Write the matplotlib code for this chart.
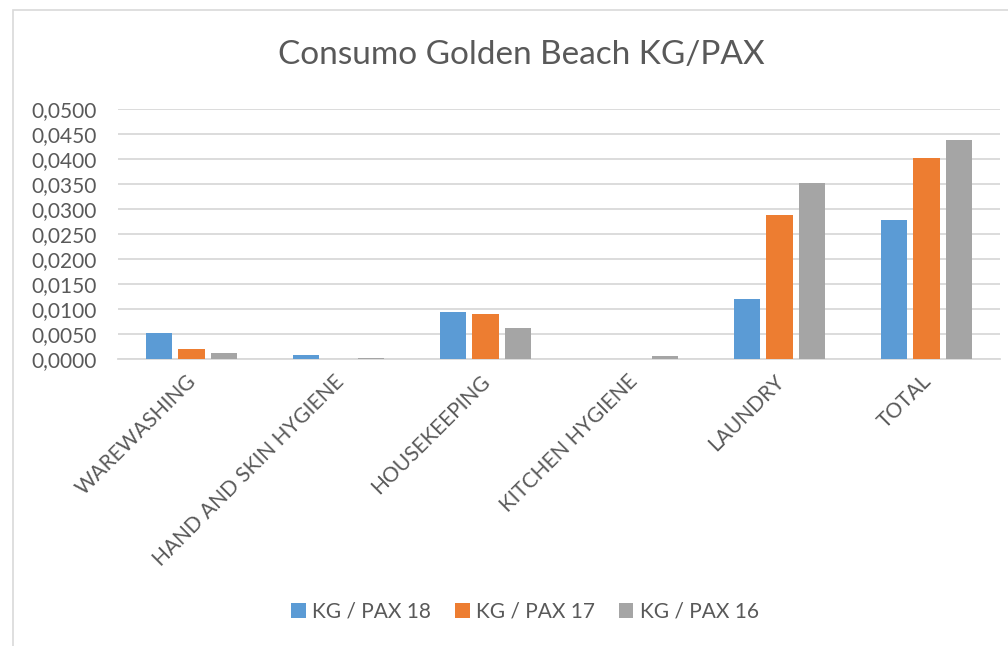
import matplotlib
matplotlib.use("Agg")
import matplotlib.pyplot as plt
import matplotlib.ticker as ticker
from matplotlib.patches import Rectangle
import numpy as np

plt.rcParams["font.family"] = ["Lato", "DejaVu Sans"]

CATEGORIES = ["WAREWASHING", "HAND AND SKIN HYGIENE", "HOUSEKEEPING",
              "KITCHEN HYGIENE", "LAUNDRY", "TOTAL"]
SERIES = ["KG / PAX 18", "KG / PAX 17", "KG / PAX 16"]
PAX_18 = [0.0053, 0.0008, 0.0094, 0.0000, 0.0120, 0.0278]
PAX_17 = [0.0021, 0.0000, 0.0090, 0.0000, 0.0288, 0.0402]
PAX_16 = [0.0013, 0.0003, 0.0062, 0.0006, 0.0352, 0.0439]
COLORS = ["#5b9bd5", "#ed7d31", "#a5a5a5"]

TEXT = "#595959"
GRID = "#d9d9d9"

fig = plt.figure(figsize=(10.08, 6.46), dpi=100)

# chart border (only left and top are visible in the reference)
fig.add_artist(Rectangle((12.5 / 1008, -0.1), 1.2, 1 - 10 / 646 + 0.1,
                         transform=fig.transFigure, fill=False,
                         edgecolor=GRID, linewidth=1.2))

ax = fig.add_axes([118 / 1008, 1 - 359.3 / 646, 882 / 1008, 250.3 / 646])

x = np.arange(len(CATEGORIES))
width = 0.177
step = 0.221
for i, (vals, name) in enumerate(zip([PAX_18, PAX_17, PAX_16], SERIES)):
    ax.bar(x + (i - 1) * step, vals, width=width, color=COLORS[i],
           label=name, zorder=3)

ax.set_xlim(-0.5, len(CATEGORIES) - 0.5)
ax.set_ylim(0, 0.05)
ax.yaxis.set_major_locator(ticker.MultipleLocator(0.005))
ax.yaxis.set_major_formatter(ticker.FuncFormatter(lambda v, p: f"{v:.4f}".replace(".", ",")))
ax.grid(axis="y", color=GRID, linewidth=1.3, zorder=0)
for side in ["top", "right", "left"]:
    ax.spines[side].set_visible(False)
ax.spines["bottom"].set_color(GRID)
ax.spines["bottom"].set_linewidth(1.3)
ax.tick_params(axis="both", length=0, colors=TEXT, labelsize=15)
ax.tick_params(axis="y", pad=15)

ax.set_xticks(x)
ax.set_xticklabels([])
for xi, lab in zip(x, CATEGORIES):
    ax.annotate(lab, xy=(xi, 0), xycoords=("data", "axes fraction"),
                xytext=(2, -19), textcoords="offset pixels",
                rotation=45, rotation_mode="anchor", ha="right", va="center",
                fontsize=15, color=TEXT)

fig.text(0.517, 1 - 55 / 646, "Consumo Golden Beach KG/PAX", ha="center",
         va="center", fontsize=24, color=TEXT)

handles, labels = ax.get_legend_handles_labels()
fig.legend(handles, labels, loc="center", bbox_to_anchor=(525 / 1008, 1 - 612 / 646),
           ncol=3, frameon=False, fontsize=15, labelcolor=TEXT,
           handlelength=0.7, handleheight=0.7, handletextpad=0.3, columnspacing=1.15)

fig.savefig("out.png", dpi=100)
